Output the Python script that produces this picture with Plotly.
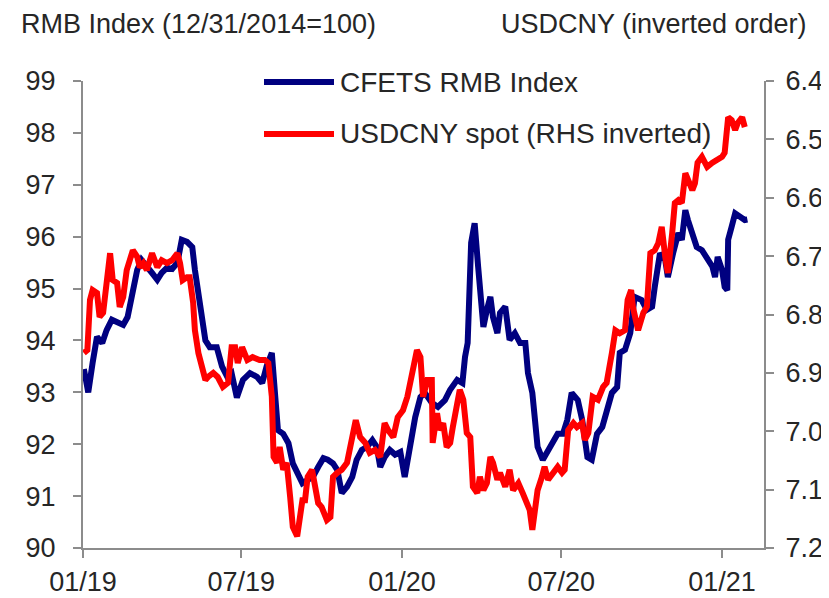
import plotly.graph_objects as go

# ---- data ----
cfets_dates = [
    "2019-01-02", "2019-01-07", "2019-01-12", "2019-01-17", "2019-01-23", "2019-01-28",
    "2019-02-03", "2019-02-10", "2019-02-16", "2019-02-21", "2019-02-27", "2019-03-04",
    "2019-03-09", "2019-03-15", "2019-03-21", "2019-03-27", "2019-04-01", "2019-04-07",
    "2019-04-13", "2019-04-19", "2019-04-24", "2019-04-30", "2019-05-06", "2019-05-09",
    "2019-05-13", "2019-05-17", "2019-05-21", "2019-05-26", "2019-06-03", "2019-06-09",
    "2019-06-15", "2019-06-20", "2019-06-26", "2019-07-03", "2019-07-11", "2019-07-19",
    "2019-07-25", "2019-07-30", "2019-08-05", "2019-08-09", "2019-08-12", "2019-08-18",
    "2019-08-24", "2019-08-29", "2019-09-03", "2019-09-09", "2019-09-14", "2019-09-21",
    "2019-09-27", "2019-10-03", "2019-10-08", "2019-10-14", "2019-10-19", "2019-10-24",
    "2019-10-30", "2019-11-05", "2019-11-10", "2019-11-16", "2019-11-22", "2019-11-28",
    "2019-12-03", "2019-12-07", "2019-12-12", "2019-12-18", "2019-12-24", "2019-12-30",
    "2020-01-04", "2020-01-10", "2020-01-16", "2020-01-22", "2020-01-27", "2020-02-04",
    "2020-02-11", "2020-02-19", "2020-02-25", "2020-03-04", "2020-03-10", "2020-03-13",
    "2020-03-16", "2020-03-20", "2020-03-24", "2020-03-28", "2020-03-31", "2020-04-03",
    "2020-04-07", "2020-04-11", "2020-04-14", "2020-04-19", "2020-04-22", "2020-04-28",
    "2020-05-03", "2020-05-09", "2020-05-15", "2020-05-21", "2020-05-24", "2020-05-29",
    "2020-06-01", "2020-06-04", "2020-06-10", "2020-06-16", "2020-06-22", "2020-06-27",
    "2020-07-03", "2020-07-08", "2020-07-13", "2020-07-20", "2020-07-25", "2020-07-31",
    "2020-08-05", "2020-08-11", "2020-08-17", "2020-08-22", "2020-08-28", "2020-09-03",
    "2020-09-06", "2020-09-12", "2020-09-18", "2020-09-23", "2020-10-01", "2020-10-07",
    "2020-10-13", "2020-10-16", "2020-10-22", "2020-10-28", "2020-10-31", "2020-11-06",
    "2020-11-12", "2020-11-16", "2020-11-20", "2020-11-23", "2020-11-28", "2020-12-03",
    "2020-12-09", "2020-12-15", "2020-12-21", "2020-12-24", "2020-12-27", "2021-01-01",
    "2021-01-04", "2021-01-07", "2021-01-08", "2021-01-12", "2021-01-16", "2021-01-22",
    "2021-01-27", "2021-01-30",
]
cfets_values = [
    93.45, 93.00, 93.57, 94.07, 93.95, 94.20,
    94.40, 94.33, 94.30, 94.45, 95.03, 95.36,
    95.55, 95.40, 95.30, 95.17, 95.30, 95.40,
    95.38, 95.50, 95.94, 95.90, 95.80, 95.36,
    94.90, 94.40, 94.00, 93.87, 93.87, 93.50,
    93.30, 93.37, 92.90, 93.24, 93.37, 93.30,
    93.18, 93.50, 93.76, 92.90, 92.27, 92.20,
    92.02, 91.63, 91.44, 91.25, 91.30, 91.37,
    91.56, 91.73, 91.70, 91.63, 91.50, 91.06,
    91.18, 91.37, 91.70, 91.89, 91.95, 92.08,
    91.95, 91.56, 91.75, 91.89, 91.80, 91.85,
    91.37, 91.95, 92.52, 92.91, 92.99, 92.80,
    92.72, 92.85, 93.05, 93.24, 93.18, 93.68,
    93.95, 95.88, 96.26, 95.42, 94.78, 94.26,
    94.59, 94.84, 94.45, 94.14, 94.53, 94.65,
    94.01, 94.14, 93.95, 93.95, 93.37, 92.99,
    92.47, 91.95, 91.70, 91.89, 92.08, 92.20,
    92.20, 92.47, 92.99, 92.85, 92.47, 91.75,
    91.70, 92.20, 92.33, 92.60, 92.99, 93.10,
    93.76, 93.82, 94.14, 94.84, 94.78, 94.59,
    94.65, 95.03, 95.68, 95.55, 95.22, 95.68,
    96.07, 95.94, 96.51, 96.32, 96.07, 95.80,
    95.74, 95.55, 95.42, 95.22, 95.61, 95.36,
    95.03, 94.97, 95.94, 96.19, 96.45, 96.38,
    96.32, 96.33,
]

usdcny_dates = [
    "2019-01-02", "2019-01-06", "2019-01-09", "2019-01-12", "2019-01-17", "2019-01-20",
    "2019-01-24", "2019-01-28", "2019-02-01", "2019-02-04", "2019-02-09", "2019-02-12",
    "2019-02-16", "2019-02-20", "2019-02-24", "2019-02-27", "2019-03-04", "2019-03-07",
    "2019-03-11", "2019-03-15", "2019-03-21", "2019-03-27", "2019-04-01", "2019-04-07",
    "2019-04-13", "2019-04-19", "2019-04-22", "2019-04-25", "2019-04-30", "2019-05-03",
    "2019-05-07", "2019-05-09", "2019-05-13", "2019-05-17", "2019-05-21", "2019-05-24",
    "2019-05-30", "2019-06-04", "2019-06-10", "2019-06-16", "2019-06-20", "2019-06-24",
    "2019-06-27", "2019-07-02", "2019-07-08", "2019-07-14", "2019-07-22", "2019-07-28",
    "2019-08-01", "2019-08-05", "2019-08-07", "2019-08-11", "2019-08-14", "2019-08-18",
    "2019-08-22", "2019-08-26", "2019-08-29", "2019-09-03", "2019-09-09", "2019-09-12",
    "2019-09-15", "2019-09-20", "2019-09-23", "2019-09-27", "2019-10-01", "2019-10-07",
    "2019-10-11", "2019-10-14", "2019-10-19", "2019-10-24", "2019-10-30", "2019-11-02",
    "2019-11-06", "2019-11-09", "2019-11-14", "2019-11-20", "2019-11-25", "2019-12-01",
    "2019-12-07", "2019-12-12", "2019-12-16", "2019-12-22", "2019-12-27", "2020-01-02",
    "2020-01-07", "2020-01-10", "2020-01-13", "2020-01-18", "2020-01-22", "2020-01-25",
    "2020-01-30", "2020-02-04", "2020-02-05", "2020-02-10", "2020-02-13", "2020-02-17",
    "2020-02-21", "2020-02-25", "2020-02-28", "2020-03-04", "2020-03-07", "2020-03-11",
    "2020-03-15", "2020-03-19", "2020-03-22", "2020-03-27", "2020-03-30", "2020-04-03",
    "2020-04-07", "2020-04-11", "2020-04-14", "2020-04-19", "2020-04-22", "2020-04-28",
    "2020-05-03", "2020-05-07", "2020-05-13", "2020-05-18", "2020-05-23", "2020-05-26",
    "2020-05-29", "2020-06-01", "2020-06-04", "2020-06-09", "2020-06-12", "2020-06-16",
    "2020-06-22", "2020-06-27", "2020-07-02", "2020-07-05", "2020-07-09", "2020-07-15",
    "2020-07-19", "2020-07-25", "2020-07-28", "2020-08-01", "2020-08-06", "2020-08-12",
    "2020-08-18", "2020-08-22", "2020-08-28", "2020-09-01", "2020-09-06", "2020-09-12",
    "2020-09-15", "2020-09-19", "2020-09-21", "2020-09-27", "2020-10-03", "2020-10-07",
    "2020-10-11", "2020-10-16", "2020-10-20", "2020-10-24", "2020-10-28", "2020-10-31",
    "2020-11-05", "2020-11-08", "2020-11-12", "2020-11-16", "2020-11-20", "2020-11-23",
    "2020-11-28", "2020-12-01", "2020-12-04", "2020-12-09", "2020-12-15", "2020-12-21",
    "2020-12-26", "2021-01-01", "2021-01-04", "2021-01-08", "2021-01-12", "2021-01-16",
    "2021-01-19", "2021-01-24", "2021-01-27",
]
usdcny_values = [
    6.866, 6.861, 6.775, 6.758, 6.763, 6.804,
    6.797, 6.746, 6.695, 6.741, 6.746, 6.787,
    6.770, 6.724, 6.707, 6.690, 6.701, 6.719,
    6.712, 6.724, 6.695, 6.719, 6.707, 6.712,
    6.707, 6.695, 6.712, 6.741, 6.736, 6.736,
    6.780, 6.827, 6.866, 6.890, 6.912, 6.907,
    6.900, 6.907, 6.924, 6.917, 6.856, 6.856,
    6.883, 6.856, 6.878, 6.873, 6.878, 6.878,
    6.883, 6.941, 7.044, 7.054, 7.027, 7.066,
    7.054, 7.113, 7.164, 7.180, 7.118, 7.118,
    7.078, 7.066, 7.095, 7.123, 7.130, 7.152,
    7.147, 7.078, 7.071, 7.066, 7.054, 7.032,
    7.015, 6.981, 7.010, 7.020, 7.037, 7.032,
    7.044, 6.986, 6.998, 7.010, 6.976, 6.964,
    6.941, 6.917, 6.890, 6.861, 6.873, 6.941,
    6.912, 6.912, 7.020, 6.969, 6.998, 6.986,
    7.027, 7.020, 6.993, 6.946, 6.929, 6.946,
    7.003, 7.010, 7.095, 7.106, 7.078, 7.101,
    7.089, 7.044, 7.054, 7.083, 7.071, 7.095,
    7.066, 7.101, 7.089, 7.106, 7.123, 7.135,
    7.169, 7.130, 7.101, 7.078, 7.061, 7.083,
    7.071, 7.061, 7.071, 7.066, 6.998, 6.986,
    6.993, 6.986, 7.015, 7.003, 6.941, 6.946,
    6.924, 6.917, 6.866, 6.827, 6.832, 6.827,
    6.775, 6.758, 6.787, 6.827, 6.797, 6.787,
    6.695, 6.690, 6.678, 6.650, 6.701, 6.729,
    6.660, 6.609, 6.604, 6.609, 6.558, 6.570,
    6.587, 6.575, 6.540, 6.530, 6.547, 6.540,
    6.535, 6.530, 6.523, 6.462, 6.467, 6.484,
    6.472, 6.462, 6.479,
]

x_tick_vals = ["2019-01-01", "2019-07-01", "2020-01-01", "2020-07-01", "2021-01-01"]
x_tick_text = ["01/19", "07/19", "01/20", "07/20", "01/21"]
left_ticks = [90, 91, 92, 93, 94, 95, 96, 97, 98, 99]
right_ticks = [6.4, 6.5, 6.6, 6.7, 6.8, 6.9, 7.0, 7.1, 7.2]

series_names = ["CFETS RMB Index", "USDCNY spot (RHS inverted)"]
left_title = "RMB Index (12/31/2014=100)"
right_title = "USDCNY (inverted order)"

NAVY = "#000080"
RED = "#FF0000"
AXIS = "#8C8C8C"
TEXT = "#262626"
FONT = "Liberation Sans, Arial, sans-serif"
FS = 27

# The page body has an 8px default margin, so the figure starts at (8, 8) in the
# window. Geometry below is expressed in window pixels and converted.
OFF = 8
W, H = 829, 598
PL, PR, PT, PB = 83, 764, 81, 548          # plot-area edges in window pixels
L, T = PL - OFF, PT - OFF
R, B = W - (PR - OFF), H - (PB - OFF)
PW, PH = PR - PL, PB - PT


def px(xpix):
    return (xpix - PL) / PW


def py(ypix):
    return (PB - ypix) / PH


fig = go.Figure()
fig.add_trace(go.Scatter(x=cfets_dates, y=cfets_values, name=series_names[0],
                         mode="lines", line=dict(color=NAVY, width=6),
                         yaxis="y", showlegend=False))
fig.add_trace(go.Scatter(x=usdcny_dates, y=usdcny_values, name=series_names[1],
                         mode="lines", line=dict(color=RED, width=6),
                         yaxis="y2", showlegend=False))

axis_common = dict(showgrid=False, zeroline=False, showline=True, linecolor=AXIS,
                   linewidth=2, ticks="outside", ticklen=8, tickwidth=2, tickcolor=AXIS,
                   automargin=False,
                   tickfont=dict(family=FONT, size=FS, color=TEXT))

fig.update_layout(
    width=W, height=H,
    margin=dict(l=L, r=R, t=T, b=B, autoexpand=False),
    paper_bgcolor="white", plot_bgcolor="white",
    font=dict(family=FONT, size=FS, color=TEXT),
    xaxis=dict(type="date", range=["2019-01-01", "2021-02-18"],
               tickmode="array", tickvals=x_tick_vals, ticktext=x_tick_text,
               ticklabelstandoff=1, **axis_common),
    yaxis=dict(range=[90, 99], tickmode="array", tickvals=left_ticks,
               ticklabelstandoff=12, **axis_common),
    yaxis2=dict(range=[7.2, 6.4], overlaying="y", side="right", tickmode="array",
                tickvals=right_ticks, tickformat=".1f", ticklabelstandoff=6,
                **axis_common),
)

# titles above the axes (kept fully inside the figure's top edge)
TFS = 27
fig.add_annotation(text=left_title, xref="paper", yref="paper", x=px(20), y=py(24),
                   xanchor="left", yanchor="middle", showarrow=False, borderpad=0,
                   font=dict(family=FONT, size=TFS, color=TEXT))
fig.add_annotation(text=right_title, xref="paper", yref="paper", x=px(808), y=py(24),
                   xanchor="right", yanchor="middle", showarrow=False, borderpad=0,
                   font=dict(family=FONT, size=TFS, color=TEXT))

# legend drawn inside plot area
LFS = 28
legend_rows = [(series_names[0], NAVY, py(82)), (series_names[1], RED, py(134))]
for name, col, yp in legend_rows:
    fig.add_shape(type="line", xref="paper", yref="paper",
                  x0=px(264), x1=px(334), y0=yp, y1=yp,
                  line=dict(color=col, width=6))
    fig.add_annotation(text=name, xref="paper", yref="paper", x=px(338), y=yp,
                       xanchor="left", yanchor="middle", showarrow=False,
                       font=dict(family=FONT, size=LFS, color=TEXT))

fig.write_html("out.html")
